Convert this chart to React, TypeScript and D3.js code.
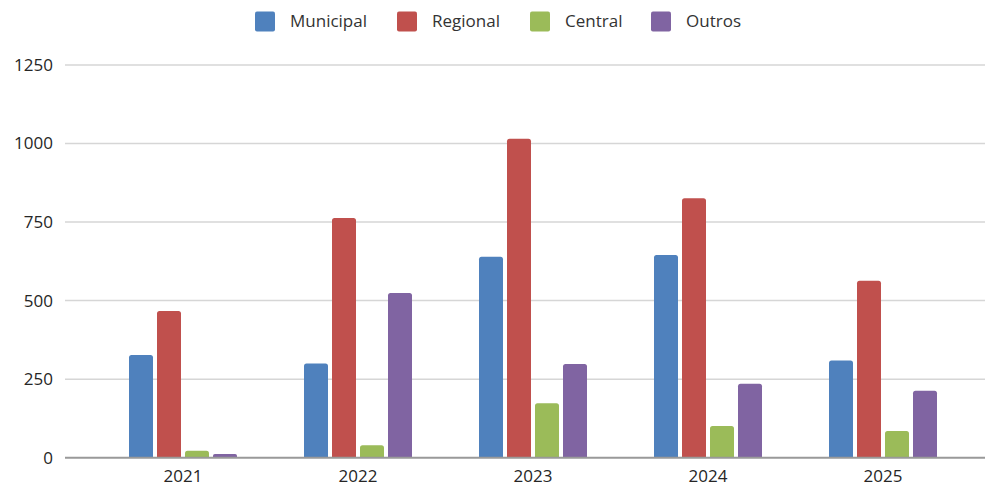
import { useEffect, useRef } from "react";
import * as d3 from "d3";

const years = ["2021", "2022", "2023", "2024", "2025"];
const seriesNames = ["Municipal", "Regional", "Central", "Outros"];
const municipal = [327, 300, 640, 645, 309];
const regional = [467, 763, 1015, 826, 563];
const central = [22, 40, 173, 101, 85];
const outros = [12, 524, 298, 235, 213];
const yTicks = [0, 250, 500, 750, 1000, 1250];
const colors = ["#4F81BD", "#C0504D", "#9BBB59", "#8064A2"];

const App = () => {
  const ref = useRef<SVGSVGElement>(null);

  useEffect(() => {
    const svg = d3.select(ref.current);
    svg.selectAll("*").remove();

    const width = 985;
    const font = "'Open Sans', 'Liberation Sans', sans-serif";
    const values = [municipal, regional, central, outros];

    const y = d3.scaleLinear().domain([0, 1250]).range([457.7, 65]);
    const x0 = d3.scaleBand().domain(years).range([95.5, 970.5]).paddingInner(0).paddingOuter(0);
    const x1 = d3
      .scaleBand()
      .domain(seriesNames)
      .range([x0.bandwidth() / 2 - 54, x0.bandwidth() / 2 + 54])
      .paddingInner(0.143)
      .paddingOuter(0);

    // gridlines
    svg
      .append("g")
      .selectAll("line")
      .data(yTicks.slice(1))
      .join("line")
      .attr("x1", 65)
      .attr("x2", width)
      .attr("y1", (d) => y(d))
      .attr("y2", (d) => y(d))
      .attr("stroke", "#d6d6d6")
      .attr("stroke-width", 1.5);

    // y labels
    svg
      .append("g")
      .selectAll("text")
      .data(yTicks)
      .join("text")
      .attr("x", 53)
      .attr("y", (d) => y(d))
      .attr("dy", "0.35em")
      .attr("text-anchor", "end")
      .attr("font-family", font)
      .attr("font-size", 17)
      .attr("fill", "#262626")
      .text((d) => d);

    // bars with rounded tops
    const barPath = (bx: number, by: number, bw: number, bh: number) => {
      const r = Math.min(2.5, bh / 2, bw / 2);
      return `M${bx},${by + bh}V${by + r}Q${bx},${by} ${bx + r},${by}H${bx + bw - r}Q${bx + bw},${by} ${bx + bw},${by + r}V${by + bh}Z`;
    };

    years.forEach((yr, i) => {
      const g = svg.append("g").attr("transform", `translate(${x0(yr)},0)`);
      seriesNames.forEach((s, j) => {
        const v = values[j][i];
        const top = y(v);
        g.append("path")
          .attr("d", barPath(x1(s)!, top, x1.bandwidth(), y(0) - top))
          .attr("fill", colors[j]);
      });
    });

    // zero axis
    svg
      .append("line")
      .attr("x1", 65)
      .attr("x2", width)
      .attr("y1", y(0))
      .attr("y2", y(0))
      .attr("stroke", "#999")
      .attr("stroke-width", 2);

    // x labels (baseline kept inside the picture)
    svg
      .append("g")
      .selectAll("text")
      .data(years)
      .join("text")
      .attr("x", (d) => x0(d)! + x0.bandwidth() / 2)
      .attr("y", 481.5)
      .attr("text-anchor", "middle")
      .attr("font-family", font)
      .attr("font-size", 17)
      .attr("fill", "#262626")
      .text((d) => d);

    // legend
    const legendX = [255, 397, 530, 651];
    const legend = svg.append("g");
    seriesNames.forEach((s, j) => {
      legend
        .append("rect")
        .attr("x", legendX[j])
        .attr("y", 11.5)
        .attr("width", 20)
        .attr("height", 20)
        .attr("rx", 2)
        .attr("fill", colors[j]);
      legend
        .append("text")
        .attr("x", legendX[j] + 35)
        .attr("y", 21.5)
        .attr("dy", "0.35em")
        .attr("font-family", font)
        .attr("font-size", 17)
        .attr("fill", "#333")
        .text(s);
    });
  }, []);

  return (
    <svg
      ref={ref}
      width={985}
      height={487}
      style={{ position: "absolute", left: 0, top: 0, background: "#fff" }}
    />
  );
};

export default App;
